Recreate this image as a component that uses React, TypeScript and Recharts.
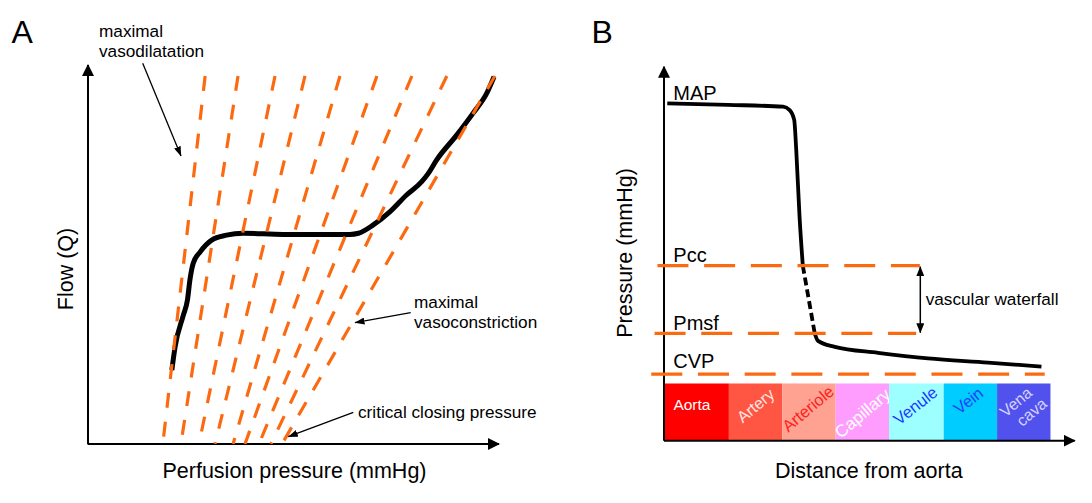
import React from "react";
import { LineChart, Line, XAxis, YAxis, ReferenceLine, ReferenceArea } from "recharts";

// Panel A: flow vs perfusion pressure (arbitrary units, origin at the axes corner)
const autoregCurve = [
  { p: 20.4, q: 19.5 }, { p: 21.2, q: 25.7 }, { p: 23.2, q: 34.0 }, { p: 24.2, q: 38.0 },
  { p: 24.8, q: 43.3 }, { p: 25.6, q: 47.7 }, { p: 27.3, q: 50.7 }, { p: 30.1, q: 53.8 },
  { p: 33.7, q: 55.1 }, { p: 37.8, q: 55.6 }, { p: 47.5, q: 55.3 }, { p: 63.7, q: 55.3 },
  { p: 65.8, q: 55.6 }, { p: 69.4, q: 57.8 }, { p: 73.5, q: 61.3 }, { p: 77.5, q: 65.7 },
  { p: 81.2, q: 69.2 }, { p: 82.8, q: 71.4 }, { p: 84.8, q: 74.9 }, { p: 89.7, q: 81.5 },
  { p: 93.7, q: 87.3 }, { p: 97.0, q: 92.5 }, { p: 98.8, q: 96.9 },
];
// pressure-flow line for each vascular tone: top end and the end on the pressure axis
const toneTopP = [28.5, 36.5, 45.5, 52.8, 61.3, 70.3, 78.8, 87.3, 99.0];
const toneBottomP = [18.2, 22.6, 27.0, 30.9, 35.3, 38.2, 41.6, 44.5, 47.2];
const toneTopQ = 97.1;

// Panel B: pressure along the vascular tree
const vessels = ["Aorta", "Artery", "Arteriole", "Capillary", "Venule", "Vein", "Vena cava"];
const vesselEdges = [0, 15.8, 28.8, 41.8, 54.8, 68.1, 81.1, 94.1];
const vesselBandTop = 15.3;
const pressureHigh = [
  { d: 0.8, mmhg: 90.2 }, { d: 15.6, mmhg: 89.8 }, { d: 29.0, mmhg: 89.3 }, { d: 30.6, mmhg: 88.4 },
  { d: 31.7, mmhg: 85.8 }, { d: 32.2, mmhg: 77.7 }, { d: 33.0, mmhg: 59.9 }, { d: 33.8, mmhg: 46.8 },
];
const pressureWaterfall = [{ d: 33.8, mmhg: 46.8 }, { d: 36.7, mmhg: 28.7 }];
const pressureLow = [
  { d: 36.7, mmhg: 28.7 }, { d: 37.5, mmhg: 26.7 }, { d: 41.6, mmhg: 25.1 }, { d: 52.1, mmhg: 23.5 },
  { d: 64.3, mmhg: 22.0 }, { d: 78.9, mmhg: 20.9 }, { d: 91.9, mmhg: 19.8 },
];
const mapLabel = "MAP";
const levelNames = ["Pcc", "Pmsf", "CVP"];
const levelValues = [46.8, 28.7, 17.8];
const levelFrom = [-1.6, -2.3, -3.1];
const levelTo = [62.3, 61.4, 92.7];

const ORANGE = "#fb6a10";
const FONT = "'Liberation Sans', Arial, sans-serif";

const vesselStyle = [
  { fill: "#ff0000", color: "#ffffff", angle: 0, dx: -4.5, dy: -8, size: 15.5 },
  { fill: "#ff5643", color: "#ffe6e2", angle: -40, dx: 0, dy: -6.5, size: 16 },
  { fill: "#ffa291", color: "#ff1f1f", angle: -40, dx: -1, dy: -3.5, size: 16.5 },
  { fill: "#ff9dff", color: "#ffffff", angle: -40, dx: 0, dy: 1, size: 17 },
  { fill: "#9dffff", color: "#1f36ff", angle: -38, dx: -1, dy: -6.5, size: 16.5 },
  { fill: "#00ccff", color: "#1f3cff", angle: -38, dx: -2, dy: -11.5, size: 16.5 },
  { fill: "#5151ee", color: "#d4d4ff", angle: -40, dx: 0, dy: -5, size: 16 },
];

function VesselLabel(props: any) {
  const { viewBox, idx } = props;
  if (!viewBox) return null;
  const st = vesselStyle[idx];
  const cx = viewBox.x + viewBox.width / 2 + st.dx;
  const cy = viewBox.y + viewBox.height / 2 + st.dy;
  const words = vessels[idx].split(" ");
  const two = words.length > 1;
  return (
    <text transform={`translate(${cx},${cy}) rotate(${st.angle})`} textAnchor="middle"
      fill={st.color} fontFamily={FONT} fontSize={st.size}>
      {words.map((w, i) => (
        <tspan key={i} x={two ? (i === 0 ? -2.8 : 2.8) : 0}
          dy={i === 0 ? (two ? "-0.22em" : "0.35em") : "1.12em"}>
          {w}
        </tspan>
      ))}
    </text>
  );
}

// axis drawn as a reference segment with an arrow head
const AxisArrow = (props: any) => (
  <line x1={props.x1} y1={props.y1} x2={props.x2} y2={props.y2} stroke="#000" strokeWidth={2}
    markerEnd="url(#axisHead)" />
);

export default function App() {
  return (
    <div style={{ position: "absolute", left: 0, top: 0, width: 1092, height: 503, background: "#fff" }}>
      <svg width={0} height={0} style={{ position: "absolute" }}>
        <defs>
          <marker id="axisHead" viewBox="0 0 12 12" refX="11" refY="6" markerWidth="12" markerHeight="12"
            markerUnits="userSpaceOnUse" orient="auto-start-reverse">
            <path d="M0,0 L12,6 L0,12 z" fill="#000" />
          </marker>
          <marker id="noteHead" viewBox="0 0 10 7" refX="9.5" refY="3.5" markerWidth="10" markerHeight="7"
            markerUnits="userSpaceOnUse" orient="auto-start-reverse">
            <path d="M0,0 L10,3.5 L0,7 z" fill="#000" />
          </marker>
          <marker id="gapHead" viewBox="0 0 10 8" refX="9.5" refY="4" markerWidth="10" markerHeight="8"
            markerUnits="userSpaceOnUse" orient="auto-start-reverse">
            <path d="M0,0 L10,4 L0,8 z" fill="#000" />
          </marker>
        </defs>
      </svg>

      {/* Panel A */}
      <div style={{ position: "absolute", left: 0, top: 0 }}>
        <LineChart width={546} height={503} margin={{ top: 65, right: 47, bottom: 59, left: 88 }}>
          <XAxis dataKey="p" type="number" domain={[0, 100]} allowDataOverflow hide />
          <YAxis type="number" domain={[0, 100]} allowDataOverflow hide />
          <ReferenceLine segment={[{ x: 0, y: 0 }, { x: 0, y: 100 }]} ifOverflow="visible" shape={AxisArrow} />
          <ReferenceLine segment={[{ x: -0.1, y: 0 }, { x: 100, y: 0 }]} ifOverflow="visible" shape={AxisArrow} />
          <Line data={autoregCurve} dataKey="q" type="monotone" stroke="#000" strokeWidth={5}
            dot={false} isAnimationActive={false} />
          {toneTopP.map((top, i) => (
            <Line key={i} data={[{ p: top, q: toneTopQ }, { p: toneBottomP[i], q: 0 }]} dataKey="q"
              type="linear" stroke={ORANGE} strokeWidth={3.2} strokeDasharray="15 14" dot={false}
              isAnimationActive={false} />
          ))}
        </LineChart>
      </div>

      {/* Panel B */}
      <div style={{ position: "absolute", left: 546, top: 0 }}>
        <LineChart width={546} height={503} margin={{ top: 66.7, right: 17.3, bottom: 62.3, left: 118 }}>
          <XAxis dataKey="d" type="number" domain={[0, 100]} allowDataOverflow hide />
          <YAxis type="number" domain={[0, 100]} allowDataOverflow hide />
          {vessels.map((v, i) => (
            <ReferenceArea key={v} x1={vesselEdges[i]} x2={vesselEdges[i + 1]} y1={0} y2={vesselBandTop}
              fill={vesselStyle[i].fill} fillOpacity={1} stroke="none" ifOverflow="visible"
              label={<VesselLabel idx={i} />} />
          ))}
          <ReferenceLine segment={[{ x: 0, y: 0 }, { x: 0, y: 100 }]} ifOverflow="visible" shape={AxisArrow} />
          <ReferenceLine segment={[{ x: 0, y: 0 }, { x: 100, y: 0 }]} ifOverflow="visible" shape={AxisArrow} />
          <Line data={pressureHigh} dataKey="mmhg" type="monotone" stroke="#000" strokeWidth={3.8}
            dot={false} isAnimationActive={false} />
          <Line data={pressureWaterfall} dataKey="mmhg" type="linear" stroke="#000" strokeWidth={3.8}
            strokeDasharray="8 4" dot={false} isAnimationActive={false} />
          <Line data={pressureLow} dataKey="mmhg" type="monotone" stroke="#000" strokeWidth={3.8}
            dot={false} isAnimationActive={false} />
          {levelNames.map((n, i) => (
            <ReferenceLine key={n} segment={[{ x: levelFrom[i], y: levelValues[i] }, { x: levelTo[i], y: levelValues[i] }]}
              stroke={ORANGE} strokeWidth={3.2} strokeDasharray="31 15.7" ifOverflow="visible" />
          ))}
        </LineChart>
      </div>

      {/* annotations */}
      <svg width={1092} height={503} style={{ position: "absolute", left: 0, top: 0, pointerEvents: "none" }}
        fontFamily={FONT} fill="#000">
        <text x={11.5} y={42.7} fontSize={32}>A</text>
        <text x={591.5} y={42.7} fontSize={32}>B</text>

        <text x={99} y={36.7} fontSize={17.2}>maximal</text>
        <text x={99} y={56.7} fontSize={17.2}>vasodilatation</text>
        <line x1={142.7} y1={63.3} x2={181} y2={156} stroke="#000" strokeWidth={1.3} markerEnd="url(#noteHead)" />

        <text x={414} y={308.3} fontSize={17.2}>maximal</text>
        <text x={414} y={328.3} fontSize={17.2}>vasoconstriction</text>
        <line x1={410.7} y1={312.7} x2={355} y2={322.7} stroke="#000" strokeWidth={1.3} markerEnd="url(#noteHead)" />

        <text x={358} y={418.3} fontSize={17.2}>critical closing pressure</text>
        <line x1={353.3} y1={412.3} x2={288.3} y2={436.7} stroke="#000" strokeWidth={1.3} markerEnd="url(#noteHead)" />

        <text transform="translate(65,269) rotate(-90)" textAnchor="middle" dy="0.35em" fontSize={21.5}>Flow (Q)</text>
        <text x={294.5} y={478} textAnchor="middle" fontSize={21.5}>Perfusion pressure (mmHg)</text>

        <text transform="translate(624,253) rotate(-90)" textAnchor="middle" dy="0.35em" fontSize={21.5}>Pressure (mmHg)</text>
        <text x={868.8} y={478} textAnchor="middle" fontSize={21.5}>Distance from aorta</text>

        <text x={673.3} y={100} fontSize={20}>{mapLabel}</text>
        <text x={673.3} y={261.7} fontSize={20}>{levelNames[0]}</text>
        <text x={673.3} y={330} fontSize={20}>{levelNames[1]}</text>
        <text x={673.3} y={368.3} fontSize={20}>{levelNames[2]}</text>

        <line x1={920.3} y1={266.7} x2={920.3} y2={332.7} stroke="#000" strokeWidth={1.5}
          markerStart="url(#gapHead)" markerEnd="url(#gapHead)" />
        <text x={925.7} y={305} fontSize={17.2}>vascular waterfall</text>
      </svg>
    </div>
  );
}
